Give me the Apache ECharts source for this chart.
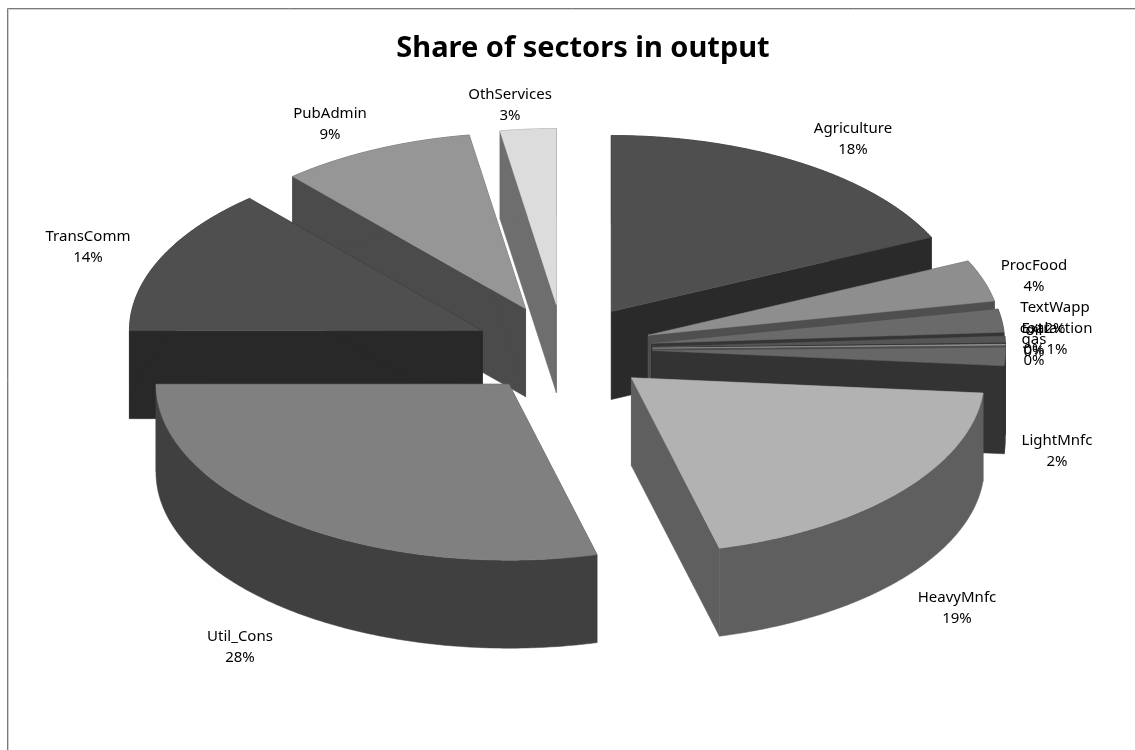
<!DOCTYPE html>
<html>
<head>
<meta charset="utf-8">
<title>Share of sectors in output</title>
<style>html,body{margin:0;padding:0;background:#fff}#chart{width:1135px;height:750px}</style>
<script src="https://cdn.jsdelivr.net/npm/echarts@6/dist/echarts.min.js"></script>
</head>
<body>
<div id="chart"></div>
<script>
// Sector shares of output, in percent, clockwise from twelve o'clock.
const sectors = ['Agriculture','ProcFood','TextWapp','Extraction','coal','oil','gas','LightMnfc','HeavyMnfc','Util_Cons','TransComm','PubAdmin','OthServices'];
const shares  = [18.45, 3.85, 2.12, 0.58, 0.04, 0.03, 0.07, 1.66, 19.29, 28.49, 13.67, 9.13, 2.62];

// Fill of each wedge: top face, then side walls.
const topFills  = ['#4f4f4f','#8e8e8e','#6a6a6a','#555555','#4a4a4a','#3c3c3c','#9a9a9a','#676767','#b2b2b2','#808080','#4f4f4f','#969696','#dcdcdc'];
const sideFills = ['#2a2a2a','#4f4f4f','#353535','#2c2c2c','#262626','#1f1f1f','#4d4d4d','#333333','#5f5f5f','#404040','#282828','#4b4b4b','#6e6e6e'];

// Centres of the two-line wedge labels.
const labelCentres = [[853,139],[1034,276],[1055,318],[1057,339.5],[1034,339],[1034,341],[1034,350.5],[1057,451],[957,608],[240,647],[88,247],[330,124],[510,105]];

// Tilted pie projection; skew is the slight angular shear of the viewpoint, in radians.
const pie = {cx:563.5, cy:349, rx:353, ry:176, depth:88, explodeX:89, explodeY:44.5, skew:0.0262};
// Wedges are painted from the back of the pie towards the viewer.
const paintOrder = [12,11,10,9,0,1,2,3,4,5,6,7,8];

const total = shares.reduce((a,b)=>a+b,0);
const starts = [];
shares.reduce((acc,v,i)=>{starts[i]=acc;return acc+v;},0);

const viewAngle = (t) => t - pie.skew*Math.sin(t);
const drop = (pts) => pts.map(p=>[p[0],p[1]+pie.depth]);

function renderWedge(params, api) {
  const i = api.value(0);
  const a0 = viewAngle(starts[i]/total*2*Math.PI);
  const a1 = viewAngle((starts[i]+api.value(1))/total*2*Math.PI);
  const mid = (a0+a1)/2;
  const ox = pie.cx + pie.explodeX*Math.sin(mid);
  const oy = pie.cy - pie.explodeY*Math.cos(mid);
  const apex = [ox,oy];
  const arc = [];
  const steps = Math.max(2, Math.ceil((a1-a0)/0.01));
  for (let k=0;k<=steps;k++) {
    const t = a0+(a1-a0)*k/steps;
    arc.push([ox+pie.rx*Math.sin(t), oy-pie.ry*Math.cos(t)]);
  }
  const first = arc[0], last = arc[arc.length-1];
  const side = {fill:sideFills[i], stroke:sideFills[i], lineWidth:0.5};
  const poly = (points,style)=>({type:'polygon',shape:{points},style});
  return {
    type:'group',
    children:[
      poly([apex,first,...drop([first,apex])],side),
      poly([apex,last,...drop([last,apex])],side),
      poly([...arc,...drop(arc).reverse()],side),
      poly([apex,...arc],{fill:topFills[i],stroke:topFills[i],lineWidth:0.5}),
      {type:'text',z2:50,style:{
        text:sectors[i]+'\n'+Math.round(api.value(1))+'%',
        x:labelCentres[i][0],y:labelCentres[i][1],
        align:'center',verticalAlign:'middle',lineHeight:21,
        font:'15px "Noto Sans"',fill:'#000'
      }}
    ]
  };
}

const chart = echarts.init(document.getElementById('chart'),null,{renderer:'canvas'});
chart.setOption({
  animation:false,
  backgroundColor:'#fff',
  title:{text:'Share of sectors in output',left:578,top:29,textAlign:'center',
    textStyle:{fontFamily:'Noto Sans',fontWeight:'bold',fontSize:29,color:'#000'}},
  graphic:[
    {type:'polyline',silent:true,shape:{points:[[8.5,750],[8.5,9.5],[1135,9.5]]},style:{fill:null,stroke:'#cfcfcf',lineWidth:1}},
    {type:'polyline',silent:true,shape:{points:[[7.5,750],[7.5,8.5],[1135,8.5]]},style:{fill:null,stroke:'#7a7a7a',lineWidth:1}}
  ],
  series:[{
    type:'custom',coordinateSystem:'none',silent:true,
    renderItem:renderWedge,
    data:paintOrder.map(i=>[i,shares[i]])
  }]
});
</script>
</body>
</html>
